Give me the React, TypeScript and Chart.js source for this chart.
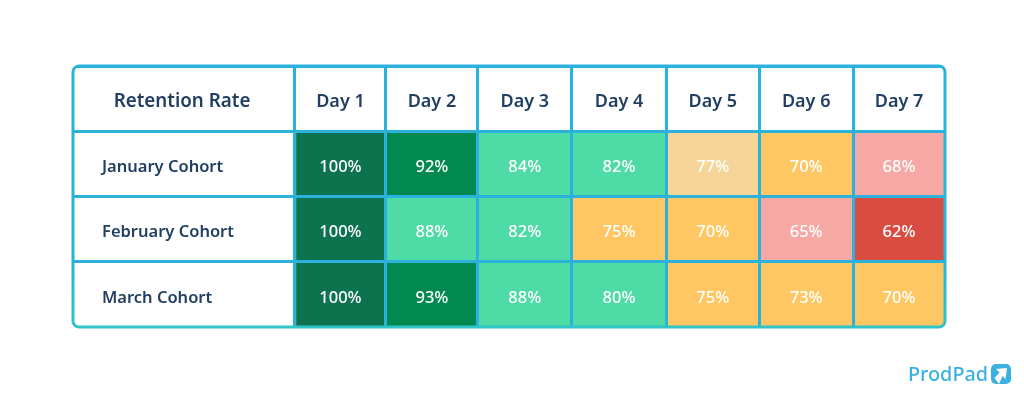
import React, { useEffect, useRef } from "react";
import { Chart, registerables } from "chart.js";

Chart.register(...registerables);

const title = "Retention Rate";
const days = ["Day 1", "Day 2", "Day 3", "Day 4", "Day 5", "Day 6", "Day 7"];
const cohorts = ["January Cohort", "February Cohort", "March Cohort"];
const january = [100, 92, 84, 82, 77, 70, 68];
const february = [100, 88, 82, 75, 70, 65, 62];
const march = [100, 93, 88, 80, 75, 73, 70];
const retention = [january, february, march];

// Table column boundaries, in axis units (the columns are not quite equal).
const columnEdges = [0, 0.98, 1.97, 2.98, 4, 5, 6.01, 7];

const LINE = "#2bb2dc";
const INK = "#213f63";
const BRAND = "#3bb0e3";
const FONT = '"Noto Sans", sans-serif';
const TEXT_DROP = 3.5;

function colour(v: number): string {
  if (v >= 100) return "#0d734f";
  if (v >= 90) return "#01894f";
  if (v >= 80) return "#4fdba6";
  if (v >= 76) return "#f6d598";
  if (v >= 70) return "#fec764";
  if (v >= 63) return "#f5a8a4";
  return "#d94c42";
}

const tablePlugin = {
  id: "tableText",
  afterDraw(chart: any) {
    const { ctx, scales, chartArea } = chart;
    const x = scales.x;
    const y = scales.y;
    const midX = (i: number) =>
      (x.getPixelForValue(columnEdges[i]) + x.getPixelForValue(columnEdges[i + 1])) / 2;
    const midY = (r: number) => y.getPixelForValue(r) + TEXT_DROP;
    ctx.save();
    ctx.textBaseline = "middle";

    // header row
    ctx.fillStyle = INK;
    ctx.textAlign = "center";
    ctx.font = `600 18.8px ${FONT}`;
    ctx.fillText(title, 182, midY(0));
    ctx.font = `600 18px ${FONT}`;
    days.forEach((d, i) => {
      ctx.fillText(d, midX(i), midY(0));
    });

    // row labels
    ctx.textAlign = "left";
    ctx.font = `600 16.5px ${FONT}`;
    cohorts.forEach((c, r) => {
      ctx.fillText(c, chartArea.left + 29, midY(r + 1));
    });

    // cell values
    ctx.textAlign = "center";
    ctx.fillStyle = "#ffffff";
    ctx.font = `500 16.5px ${FONT}`;
    retention.forEach((row, r) => {
      row.forEach((v, i) => {
        ctx.fillText(`${v}%`, midX(i), midY(r + 1));
      });
    });

    // rounded outer frame: clear the square corners, then stroke
    const l = chartArea.left;
    const t = chartArea.top;
    const w = chartArea.width;
    const h = chartArea.height;
    ctx.fillStyle = "#ffffff";
    ctx.beginPath();
    ctx.rect(l - 3, t - 3, w + 6, h + 6);
    ctx.roundRect(l, t, w, h, 6);
    ctx.fill("evenodd");
    const frame = ctx.createLinearGradient(0, t, 0, t + h);
    frame.addColorStop(0, LINE);
    frame.addColorStop(0.75, LINE);
    frame.addColorStop(1, "#2fc4c8");
    ctx.strokeStyle = frame;
    ctx.lineWidth = 3;
    ctx.beginPath();
    ctx.roundRect(l, t, w, h, 6);
    ctx.stroke();

    // brand mark
    ctx.fillStyle = BRAND;
    ctx.textAlign = "left";
    ctx.font = `500 19.8px ${FONT}`;
    ctx.fillText("ProdPad", 908, 375);
    ctx.beginPath();
    ctx.roundRect(991, 364, 20, 20, 5);
    ctx.fill();
    ctx.fillStyle = "#ffffff";
    ctx.beginPath();
    ctx.moveTo(1007, 368);
    ctx.lineTo(996, 369);
    ctx.lineTo(999.5, 372.5);
    ctx.lineTo(994.5, 378);
    ctx.lineTo(999, 384);
    ctx.lineTo(1002.5, 376);
    ctx.lineTo(1005.5, 379);
    ctx.closePath();
    ctx.fill();
    ctx.restore();
  },
};

export default function App() {
  const ref = useRef<HTMLCanvasElement>(null);

  useEffect(() => {
    document.body.style.margin = "0";
    const chart = new Chart(ref.current!, {
      type: "bar",
      data: {
        labels: [title, ...cohorts],
        datasets: days.map((d, i) => ({
          label: d,
          data: [null, ...retention.map(() => [columnEdges[i], columnEdges[i + 1]])] as any,
          backgroundColor: [
            "transparent",
            ...retention.map((row) => colour(row[i])),
          ],
          borderWidth: 0,
          barPercentage: 1,
          categoryPercentage: 1,
          grouped: false,
        })),
      },
      options: {
        indexAxis: "y",
        responsive: false,
        devicePixelRatio: 1,
        animation: false,
        layout: { padding: { left: 73, right: 79, top: 66, bottom: 74 } },
        plugins: { legend: { display: false }, tooltip: { enabled: false } },
        scales: {
          x: {
            type: "linear",
            min: -2.39,
            max: 7,
            afterBuildTicks(axis: any) {
              axis.ticks = columnEdges.slice(0, -1).map((value) => ({ value }));
            },
            border: { display: false },
            ticks: { display: false },
            grid: { color: LINE, lineWidth: 3, z: 1, drawTicks: false },
          },
          y: {
            type: "category",
            border: { display: false },
            ticks: { display: false },
            grid: { color: LINE, lineWidth: 3, z: 1, drawTicks: false, offset: true },
          },
        },
      },
      plugins: [tablePlugin],
    } as any);
    return () => chart.destroy();
  }, []);

  return <canvas ref={ref} width={1024} height={401} style={{ display: "block" }} />;
}
